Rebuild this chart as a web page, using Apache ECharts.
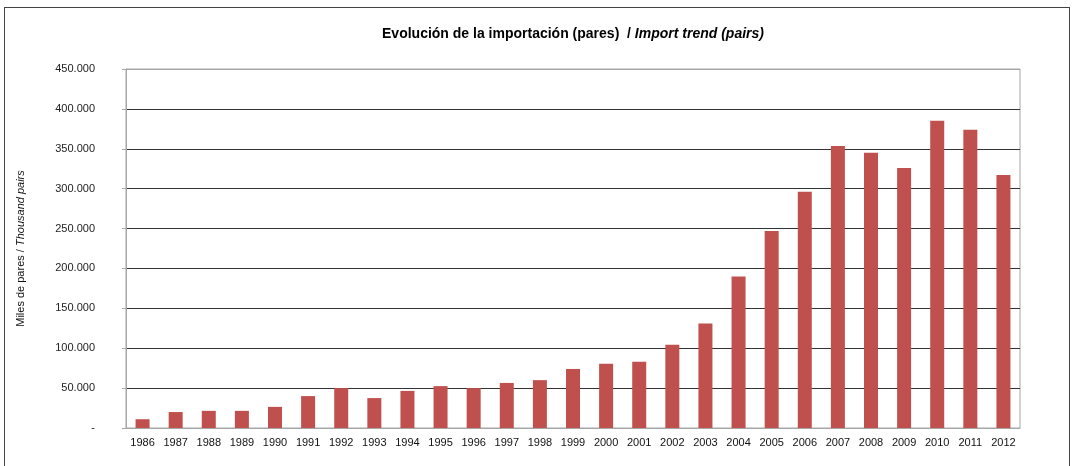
<!DOCTYPE html>
<html>
<head>
<meta charset="utf-8">
<script src="https://cdn.jsdelivr.net/npm/echarts@6/dist/echarts.min.js"></script>
<style>
    html, body { margin: 0; padding: 0; background: #fff; }
    #chart { width: 1074px; height: 466px; }
    .frame {
        position: absolute;
        left: 4px;
        top: 7px;
        width: 1064px;
        height: 500px;
        border: 1px solid #444;
        pointer-events: none;
    }
</style>
</head>
<body>
<div id="chart"></div>
<div class="frame"></div>
<script>
// import volume, thousand pairs
const years = ['1986', '1987', '1988', '1989', '1990', '1991', '1992', '1993', '1994',
    '1995', '1996', '1997', '1998', '1999', '2000', '2001', '2002', '2003', '2004',
    '2005', '2006', '2007', '2008', '2009', '2010', '2011', '2012'];
const imports = [11000, 20000, 21500, 21500, 26500, 40000, 50000, 37500, 46500,
    52500, 50000, 56500, 60000, 74000, 80500, 83000, 104500, 131000, 190000,
    247000, 296000, 353500, 345000, 326000, 385000, 374000, 317000];
const yTicks = [0, 50000, 100000, 150000, 200000, 250000, 300000, 350000, 400000, 450000];

const font = 'Liberation Sans, Arial, sans-serif';

// 450.000 style, zero shown as a dash
function fmt(v) {
    if (v === 0) return '-';
    return String(v).replace(/\B(?=(\d{3})+(?!\d))/g, '.');
}

const chart = echarts.init(document.getElementById('chart'));
chart.setOption({
    animation: false,
    title: {
        text: '{b|Evolución de la importación (pares)  / }{i|Import trend (pairs)}',
        left: 568,
        textAlign: 'center',
        top: 22,
        textStyle: {
            rich: {
                b: { fontFamily: font, fontSize: 14, fontWeight: 'bold', color: '#000' },
                i: { fontFamily: font, fontSize: 14, fontWeight: 'bold', fontStyle: 'italic', color: '#000' }
            }
        }
    },
    grid: { left: 126, right: 54, top: 69, bottom: 38, show: true, borderColor: '#a6a6a6', borderWidth: 1 },
    xAxis: {
        type: 'category',
        data: years,
        axisLine: { lineStyle: { color: '#a6a6a6' } },
        axisTick: { length: 5, lineStyle: { color: '#a6a6a6' } },
        axisLabel: { fontFamily: font, fontSize: 11, color: '#111', margin: 9, interval: 0 }
    },
    yAxis: {
        type: 'value',
        min: yTicks[0],
        max: yTicks[yTicks.length - 1],
        interval: yTicks[1] - yTicks[0],
        name: '{n|Miles de pares / }{i|Thousand pairs}',
        nameLocation: 'middle',
        nameRotate: 90,
        nameGap: 100,
        nameTextStyle: {
            rich: {
                n: { fontFamily: font, fontSize: 11, color: '#111' },
                i: { fontFamily: font, fontSize: 11, fontStyle: 'italic', color: '#111' }
            }
        },
        axisLine: { show: true, lineStyle: { color: '#a6a6a6' } },
        axisTick: { show: true, length: 4, lineStyle: { color: '#a6a6a6' } },
        axisLabel: { fontFamily: font, fontSize: 11, color: '#222', margin: 31, formatter: fmt },
        splitLine: {
            lineStyle: {
                color: ['#a6a6a6', '#333', '#333', '#333', '#333', '#333', '#333', '#333', '#333', '#a6a6a6']
            }
        }
    },
    series: [{
        type: 'bar',
        data: imports,
        barWidth: 14,
        itemStyle: { color: '#c0504d' }
    }]
});
</script>
</body>
</html>
